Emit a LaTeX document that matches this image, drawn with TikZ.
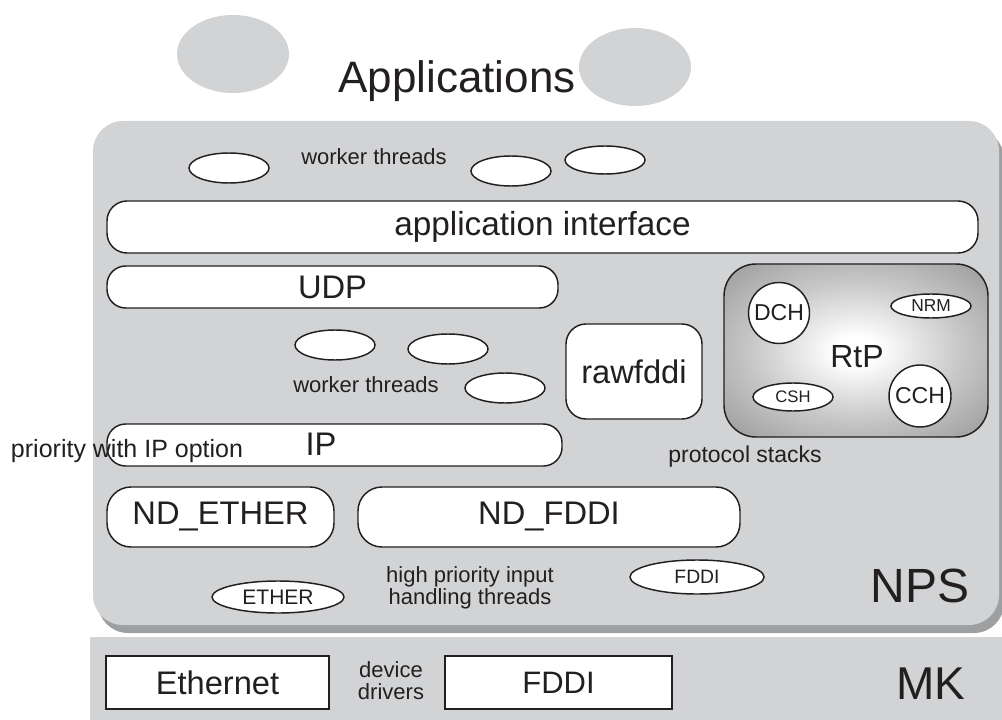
\documentclass[tikz,border=0pt]{standalone}
\usepackage{fontspec}
\setmainfont{Liberation Sans}
\usetikzlibrary{shapes.geometric}
\definecolor{panelgray}{RGB}{210,211,213}
\definecolor{shadowgray}{RGB}{158,159,161}
\definecolor{inkgray}{RGB}{35,31,32}
% soft glow for the RtP stack: light centre, darker rim
\pgfdeclareradialshading{rtpglow}{\pgfpoint{0bp}{0bp}}{color(0bp)=(white); color(4bp)=(white); color(20bp)=(black!22); color(50bp)=(black!56); color(75bp)=(black!66)}
\newcommand\fsz[1]{\fontsize{#1}{#1}\selectfont}
\tikzset{
  every node/.style={text=inkgray, inner sep=0pt, outer sep=0pt},
  outline/.style={draw=inkgray, line width=1.1pt, fill=white},
  bar/.style={outline, rectangle, rounded corners=#1},
  thread/.style={outline, ellipse, minimum width=60pt, minimum height=22.5pt},
  blob/.style={fill=panelgray, ellipse, minimum width=84pt, minimum height=58.5pt},
  small/.style={font=\fsz{16.5pt}},
  big/.style={font=\fsz{24.5pt}},
}
\begin{document}
\begin{tikzpicture}[x=0.75pt, y=-0.75pt]
\useasboundingbox (0,0) rectangle (1002,720);

% microkernel panel
\fill[panelgray] (90,637) rectangle (1010,725);
% NPS panel with its drop shadow
\node[fill=shadowgray, rectangle, rounded corners=22.5pt, minimum width=679.5pt, minimum height=378pt] (npsshadow) at (551,381) {};
\node[fill=panelgray, rectangle, rounded corners=22.5pt, minimum width=679.5pt, minimum height=378pt] (nps) at (546,373) {};

% applications
\node[blob] (appl) at (233,54) {};
\node[blob] (appr) at (635,67) {};
\node[anchor=base, font=\fsz{33pt}] (apps) at (457,93) {Applications};

% worker threads above the application interface
\node[thread] (wt1) at (229,168) {};
\node[thread] (wt2) at (511,171) {};
\node[thread, minimum height=21pt] (wt3) at (605,160) {};
\node[anchor=base, small] (wtlabel1) at (374,165) {worker threads};

% protocol layers
\node[bar=15pt, minimum width=653.25pt, minimum height=39pt, font=\fsz{25pt}] (api) at (542.5,227) {application interface};
\node[bar=14pt, minimum width=338.25pt, minimum height=31.5pt, big] (udp) at (332.5,287) {UDP};

\node[thread] (wt4) at (335,345) {};
\node[thread] (wt5) at (448,349) {};
\node[thread] (wt6) at (505,388) {};
\node[anchor=base, small] (wtlabel2) at (366,392) {worker threads};

\node[bar=15pt, minimum width=102pt, minimum height=71.25pt, big] (rawfddi) at (634,371.5) {rawfddi};

\node[bar=14pt, minimum width=341.25pt, minimum height=31.5pt] (ip) at (334.5,445) {};
\node[anchor=base, big] (iptext) at (321,455) {IP};
\node[anchor=base west, font=\fsz{18.75pt}] (prio) at (11,457) {priority with IP option};

\node[bar=18pt, minimum width=170.25pt, minimum height=45pt, big] (ndether) at (220.5,517) {ND\_ETHER};
\node[bar=18pt, minimum width=286.5pt, minimum height=45pt, big] (ndfddi) at (549,517) {ND\_FDDI};

% RtP protocol stack
\node[draw=inkgray, line width=1.1pt, shading=rtpglow, rectangle, rounded corners=24pt, minimum width=198pt, minimum height=129.75pt] (rtp) at (856,350.5) {};
\node[anchor=base, font=\fsz{24pt}] (rtptext) at (857,367) {RtP};
\node[outline, circle, minimum size=45.75pt, font=\fsz{17.25pt}] (dch) at (779,313) {DCH};
\node[outline, ellipse, minimum width=60pt, minimum height=18pt, font=\fsz{13pt}] (nrm) at (931,306) {NRM};
\node[outline, ellipse, minimum width=60pt, minimum height=21pt, font=\fsz{12.5pt}] (csh) at (793,397) {CSH};
\node[outline, circle, minimum size=46.5pt, font=\fsz{17.25pt}] (cch) at (920,396) {CCH};
\node[anchor=base, font=\fsz{17.25pt}] (stacks) at (745,462) {protocol stacks};

% input handling threads
\node[outline, ellipse, minimum width=99pt, minimum height=24pt, font=\fsz{15.75pt}] (ether) at (278,597) {ETHER};
\node[outline, ellipse, minimum width=100.5pt, minimum height=25.5pt, font=\fsz{14.5pt}] (fddith) at (697,577) {FDDI};
\node[align=center, font=\fsz{16.5pt}] (hpin) at (470,588) {high priority input\\handling threads};
\node[anchor=base, font=\fsz{36pt}] (npstext) at (920,602) {NPS};

% device drivers
\node[outline, rectangle, minimum width=167.25pt, minimum height=39.75pt, big] (ethernet) at (217.5,682.5) {Ethernet};
\node[align=center, font=\fsz{16.5pt}] (drivers) at (391,680.5) {device\\drivers};
\node[outline, rectangle, minimum width=170.25pt, minimum height=39.75pt, font=\fsz{23.25pt}] (fddidrv) at (558.5,682.5) {FDDI};
\node[anchor=base, font=\fsz{34.5pt}] (mktext) at (931,699) {MK};
\end{tikzpicture}
\end{document}
